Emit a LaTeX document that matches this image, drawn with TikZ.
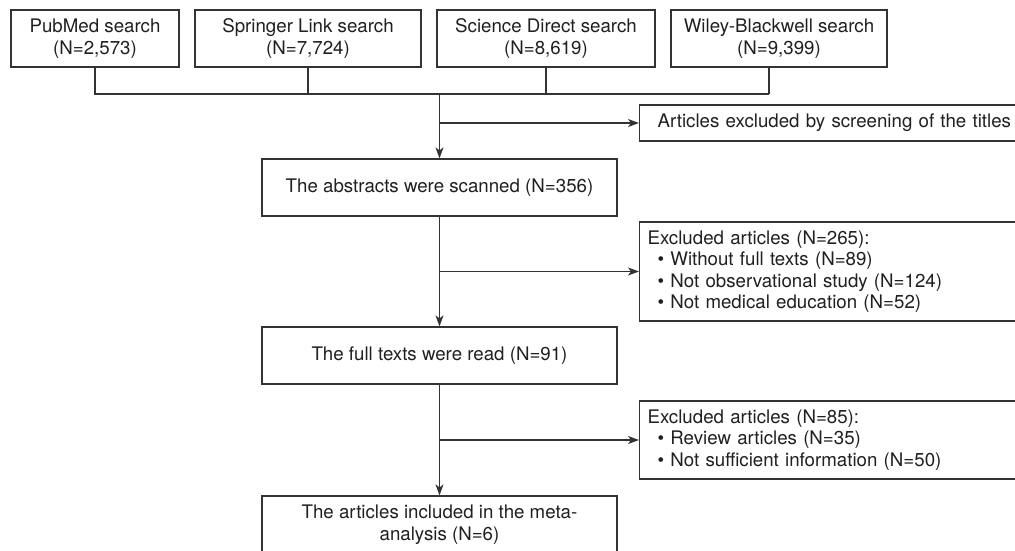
\documentclass[tikz,border=0pt]{standalone}
\usepackage{fontspec}
\setmainfont{TeX Gyre Heros}
\usetikzlibrary{arrows.meta}
\definecolor{txt}{HTML}{231F20}
\definecolor{ln}{HTML}{333333}
\begin{document}
\begin{tikzpicture}[x=1pt,y=-1pt,
  every node/.style={font=\fontsize{18.7}{21.5}\selectfont, text=txt},
  box/.style={draw=ln, line width=1.2pt, rectangle, inner sep=0pt, align=center, minimum height=57pt},
  sidebox/.style={draw=ln, line width=1.2pt, rectangle, inner xsep=8pt, inner ysep=0pt, anchor=west, minimum width=396pt, text width=380pt, align=left},
  conn/.style={draw=ln, line width=1.2pt},
  arr/.style={conn, -{Stealth[length=11pt,width=8pt,inset=3pt]}}
]
\useasboundingbox (0,0) rectangle (1015,550);
\fill[white] (0,0) rectangle (1015,550);
\clip (0,0) rectangle (1015,550);

% sources
\node[box, minimum width=168pt] (b1) at (95,38.5) {PubMed search\\(N=2,573)};
\node[box, minimum width=226pt] (b2) at (308,38.5) {Springer Link search\\(N=7,724)};
\node[box, minimum width=218pt] (b3) at (546,38.5) {Science Direct search\\(N=8,619)};
\node[box, minimum width=216pt] (b4) at (779,38.5) {Wiley-Blackwell search\\(N=9,399)};

% main column
\node[box, minimum width=355pt] (abs) at (439.5,187.5) {The abstracts were scanned (N=356)};
\node[box, minimum width=355pt] (full) at (439.5,355.5) {The full texts were read (N=91)};
\node[box, minimum width=355pt] (fin) at (439.5,524.5) {The articles included in the meta-\\analysis (N=6)};

% side boxes
\node[sidebox, minimum height=36pt, inner xsep=18pt, text width=360pt] (e1) at (639,123) {Articles excluded by screening of the titles};
\node[sidebox, minimum height=99pt] (e2) at (639,271.5) {Excluded articles (N=265):\\
\hspace*{10pt}\textbullet\ Without full texts (N=89)\\
\hspace*{10pt}\textbullet\ Not observational study (N=124)\\
\hspace*{10pt}\textbullet\ Not medical education (N=52)};
\node[sidebox, minimum height=78pt] (e3) at (639,440) {Excluded articles (N=85):\\
\hspace*{10pt}\textbullet\ Review articles (N=35)\\
\hspace*{10pt}\textbullet\ Not sufficient information (N=50)};

% merging lines
\coordinate (s4) at (769,94);
\coordinate (j) at (439.5,94);
\draw[conn] (b1.south) |- (s4);
\draw[conn] (b2.south) -- (b2.south |- s4);
\draw[conn] (b3.south) -- (b3.south |- s4);
\draw[conn] (b4.south -| s4) -- (s4);

% trunk
\draw[arr] (j) -- (abs.north);
\draw[arr] (abs.north |- e1.west) -- (e1.west);
\draw[arr] (abs.south) -- (full.north);
\draw[arr] (abs.south |- e2.west) -- (e2.west);
\draw[arr] (full.south) -- (fin.north);
\draw[arr] (full.south |- e3.west) -- (e3.west);
\end{tikzpicture}
\end{document}
